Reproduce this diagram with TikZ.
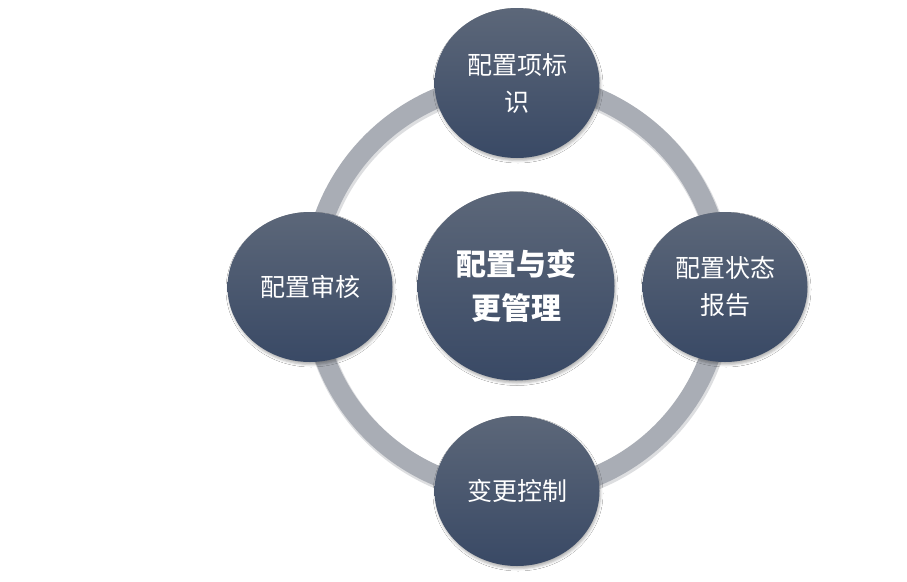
\documentclass[tikz,border=0pt]{standalone}
\usepackage{fontspec}
\newfontfamily\cjk{Noto Sans CJK SC}
\usetikzlibrary{shapes.geometric,shadows.blur}
\definecolor{ringgray}{HTML}{A9ADB5}
\definecolor{ringdark}{HTML}{8F939B}
\definecolor{bubtop}{HTML}{5C6779}
\definecolor{bubbot}{HTML}{394965}
\tikzset{
  bubble/.style={ellipse, inner sep=0pt, top color=bubtop, bottom color=bubbot,
    text=white, align=center,
    blur shadow={shadow xshift=1pt, shadow yshift=-2.5pt, shadow blur radius=2.5pt, shadow opacity=30}},
  small/.style={bubble, minimum width=165pt, minimum height=150pt,
    font=\cjk\fontsize{25}{37}\selectfont},
  big/.style={bubble, minimum width=197pt, minimum height=189pt,
    font=\cjk\bfseries\fontsize{30}{44}\selectfont}
}
\begin{document}
\begin{tikzpicture}[x=1pt,y=-1pt]
\fill[white] (0,0) rectangle (907,581);
\useasboundingbox (0,0) rectangle (907,581);
% ring
\draw[line width=22pt, ringdark, opacity=0.3] (518,289) circle[radius=205];
\draw[line width=20pt, ringgray] (517,287) circle[radius=205];
% bubbles
\node[big] (center) at (516,286) {配置与变\\更管理};
\node[small] (top) at (517,83) {配置项标\\识};
\node[small] (right) at (725,287) {配置状态\\报告};
\node[small] (bottom) at (517,491) {变更控制};
\node[small] (left) at (310,287) {配置审核};
\end{tikzpicture}
\end{document}
